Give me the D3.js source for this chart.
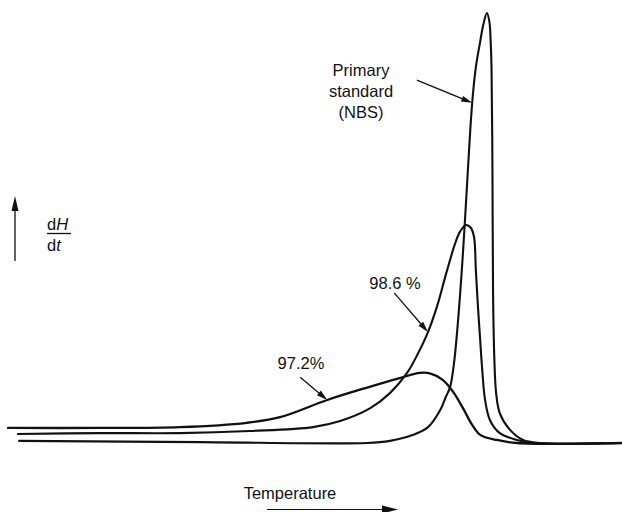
<!DOCTYPE html>
<html>
<head>
<meta charset="utf-8">
<script src="https://cdn.jsdelivr.net/npm/d3@7"></script>
<style>
  html, body { margin: 0; padding: 0; background: #fff; }
  svg { display: block; }
  text { font-family: "Liberation Sans", Arial, sans-serif; fill: #111; }
</style>
</head>
<body>
<svg id="chart" width="622" height="512"></svg>
<script>
// DSC melting endotherms (dH/dt against temperature), arbitrary units:
// temperature 0–100 across the trace, dH/dt 0–100 relative to the NBS peak.

// Primary standard (NBS)
const nbsT = [1.8, 31.3, 58.5, 62.2, 66.0, 68.4, 70.4, 71.3, 72.0, 72.6, 73.1, 73.8, 74.4, 74.9, 75.6, 76.2, 76.9, 77.4, 78.0, 78.4, 78.6, 78.75, 78.9, 79.0, 79.2, 79.5, 80.1, 81.8, 83.9, 86.6, 100];
const nbsH = [0.5, 0.2, 0.0, 0.5, 1.9, 3.7, 7.7, 10.7, 13.0, 18.1, 25.1, 37.9, 51.2, 63.5, 79.1, 87.4, 93.3, 97.2, 100, 98.0, 93.7, 87.4, 63.5, 34.9, 20.0, 11.6, 6.9, 3.0, 0.7, 0.0, 0.0];

// 98.6 % pure sample
const s986T = [1.6, 15.0, 28.0, 39.4, 49.7, 54.1, 59.0, 62.2, 65.0, 66.8, 68.4, 69.9, 71.3, 72.8, 73.6, 74.6, 75.4, 75.9, 76.2, 76.5, 76.9, 77.2, 77.7, 78.5, 80.1, 82.9, 85.5, 100];
const s986H = [2.1, 2.3, 2.3, 2.8, 3.7, 5.1, 8.1, 11.6, 16.3, 20.9, 25.8, 31.9, 39.1, 46.3, 49.1, 50.7, 50.0, 47.9, 40.2, 32.6, 24.0, 17.7, 10.0, 5.3, 2.3, 0.7, 0.0, 0.0];

// 97.2 % pure sample
const s972T = [0.0, 15.0, 28.0, 38.9, 44.3, 52.0, 58.5, 63.8, 67.1, 68.7, 70.8, 72.5, 74.1, 75.6, 76.9, 79.6, 82.9, 100];
const s972H = [3.5, 3.5, 3.7, 4.7, 6.0, 10.0, 12.9, 15.1, 16.3, 16.2, 14.7, 11.9, 8.1, 4.2, 1.9, 0.7, 0.0, 0.0];

// Labels and where their pointers touch the traces (data units)
const seriesLabels = ["Primary\nstandard\n(NBS)", "98.6 %", "97.2%"];
const pointerTips = [[75.6, 79.1], [68.4, 25.8], [52.0, 10.0]];
const pointerTails = [[66.6, 84.4], [62.9, 34.9], [47.6, 15.3]];

const axisLabelX = "Temperature";
const axisLabelYTop = "H";
const axisLabelYBottom = "t";

const svg = d3.select("#chart");

const x = d3.scaleLinear().domain([0, 100]).range([8, 622]);
const y = d3.scaleLinear().domain([0, 100]).range([443, 13]);

const line = d3.line()
  .x(d => x(d[0]))
  .y(d => y(d[1]))
  .curve(d3.curveCatmullRom.alpha(0.5));

const traces = [
  { t: s972T, h: s972H, w: 2.3 },
  { t: s986T, h: s986H, w: 2.1 },
  { t: nbsT, h: nbsH, w: 2.1 }
];

svg.append("g").selectAll("path")
  .data(traces)
  .join("path")
  .attr("d", d => line(d.t.map((v, i) => [v, d.h[i]])))
  .attr("fill", "none")
  .attr("stroke", "#111")
  .attr("stroke-width", d => d.w)
  .attr("stroke-linejoin", "round")
  .attr("stroke-linecap", "round");

// Filled arrowhead helper: tip at (x2,y2)
function arrow(g, x1, y1, x2, y2, len, half, sw) {
  const a = Math.atan2(y2 - y1, x2 - x1);
  const bx = x2 - len * Math.cos(a), by = y2 - len * Math.sin(a);
  g.append("line")
    .attr("x1", x1).attr("y1", y1).attr("x2", bx).attr("y2", by)
    .attr("stroke", "#111").attr("stroke-width", sw);
  const px = -Math.sin(a) * half, py = Math.cos(a) * half;
  g.append("path")
    .attr("d", `M${x2},${y2}L${bx + px},${by + py}L${bx - px},${by - py}Z`)
    .attr("fill", "#111");
}

const ann = svg.append("g");
pointerTips.forEach((tip, i) => {
  const tail = pointerTails[i];
  arrow(ann, x(tail[0]), y(tail[1]), x(tip[0]), y(tip[1]), 11, 3, 1.3);
});

// Series labels
const labelAnchors = [[361, 76], [395, 289], [301, 369]];
seriesLabels.forEach((lab, i) => {
  const lines = lab.split("\n");
  const t = svg.append("text")
    .attr("x", labelAnchors[i][0])
    .attr("y", labelAnchors[i][1])
    .attr("text-anchor", "middle")
    .attr("font-size", 16.5);
  lines.forEach((s, k) => {
    t.append("tspan")
      .attr("x", labelAnchors[i][0])
      .attr("dy", k === 0 ? 0 : 21)
      .text(s);
  });
});

// Temperature axis label with arrow
svg.append("text")
  .attr("x", 290).attr("y", 499)
  .attr("text-anchor", "middle")
  .attr("font-size", 16.5)
  .text(axisLabelX);
arrow(svg, 267, 509.5, 398, 509.5, 16, 4, 1.1);

// dH/dt label with upward arrow
arrow(svg, 15, 261, 15, 196, 15, 3.5, 1.3);
const frac = svg.append("g");
frac.append("text").attr("x", 47).attr("y", 230).attr("font-size", 16.5)
  .call(t => {
    t.append("tspan").text("d");
    t.append("tspan").attr("font-style", "italic").text(axisLabelYTop);
  });
frac.append("line").attr("x1", 47).attr("x2", 71).attr("y1", 233.5).attr("y2", 233.5)
  .attr("stroke", "#111").attr("stroke-width", 1.3);
frac.append("text").attr("x", 47).attr("y", 251).attr("font-size", 16.5)
  .call(t => {
    t.append("tspan").text("d");
    t.append("tspan").attr("font-style", "italic").text(axisLabelYBottom);
  });
</script>
</body>
</html>
